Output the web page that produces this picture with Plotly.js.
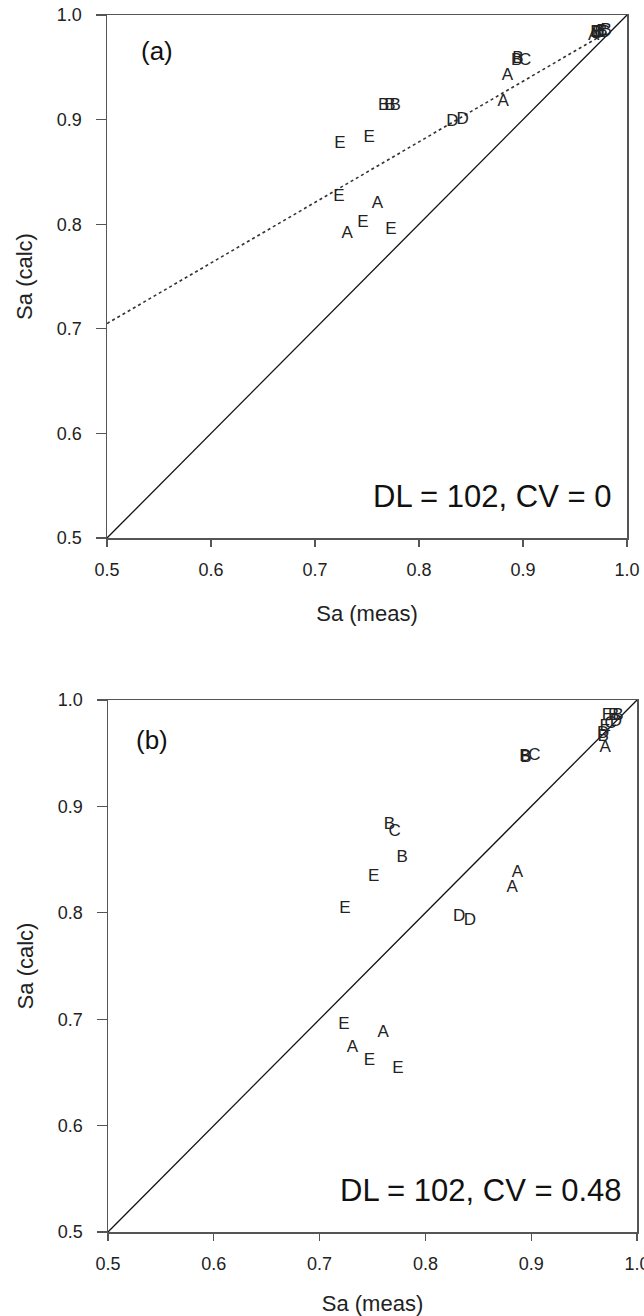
<!DOCTYPE html>
<html>
<head>
<meta charset="utf-8">
<script src="https://cdn.plot.ly/plotly-3.0.1.min.js"></script>
<style>html,body{margin:0;padding:0;background:#fff;}#chart{width:644px;height:1316px;}</style>
</head>
<body>
<div id="chart"></div>
<script>
// Panel (a): DL = 102, CV = 0
const labelsA = ["E","E","E","A","E","A","E","B","B","B","D","D","A","A","B","B","C","A","B","B","B","C","D","E"];
const measA   = [0.724,0.752,0.723,0.760,0.746,0.731,0.773,0.766,0.772,0.777,0.832,0.842,0.881,0.885,0.894,0.895,0.902,0.968,0.970,0.976,0.980,0.978,0.972,0.974];
const calcA   = [0.877,0.883,0.826,0.820,0.801,0.791,0.795,0.913,0.913,0.913,0.898,0.900,0.917,0.942,0.956,0.958,0.956,0.980,0.983,0.984,0.985,0.983,0.982,0.983];
// regression (dotted) line in panel (a)
const fitX = [0.5, 0.98];
const fitY = [0.705, 0.983];

// Panel (b): DL = 102, CV = 0.48
const labelsB = ["E","A","A","E","E","E","E","B","C","B","D","D","A","A","B","B","C","A","B","D","E","E","C","B","B","D"];
const measB   = [0.723,0.760,0.731,0.747,0.774,0.724,0.751,0.766,0.771,0.778,0.832,0.842,0.882,0.887,0.894,0.895,0.903,0.970,0.968,0.968,0.970,0.972,0.975,0.978,0.982,0.980];
const calcB   = [0.695,0.687,0.673,0.661,0.653,0.804,0.834,0.883,0.876,0.852,0.796,0.793,0.824,0.838,0.947,0.946,0.948,0.955,0.965,0.968,0.975,0.985,0.978,0.985,0.985,0.980];

const oneToOne = [0.5, 1.0];
const ticks = [0.5, 0.6, 0.7, 0.8, 0.9, 1.0];
const tickText = ["0.5","0.6","0.7","0.8","0.9","1.0"];
const panelTags = ["(a)", "(b)"];
const statTexts = ["DL = 102, CV = 0", "DL = 102, CV = 0.48"];

const W = 644, H = 1316;
const FONT = "Liberation Sans, Arial, sans-serif";
const axisColor = "#555";

function xAxis(d, anchor) {
  return {
    domain: d, anchor: anchor, range: [0.5, 1.0], tickvals: ticks, ticktext: tickText,
    showgrid: false, zeroline: false, showline: true, mirror: true, linecolor: axisColor, linewidth: 1.5,
    ticks: "outside", ticklen: 7, tickwidth: 1.2, tickcolor: axisColor, ticklabelstandoff: 8,
    ticklabeloverflow: "allow",
    tickfont: {family: FONT, size: 18, color: "#222"},
    title: {text: "Sa (meas)", font: {family: FONT, size: 22, color: "#222"}, standoff: 26}
  };
}
function yAxis(d, anchor) {
  return {
    domain: d, anchor: anchor, range: [0.5, 1.0], tickvals: ticks, ticktext: tickText,
    showgrid: false, zeroline: false, showline: true, mirror: true, linecolor: axisColor, linewidth: 1.5,
    ticks: "outside", ticklen: 10, tickwidth: 1.2, tickcolor: axisColor, ticklabelstandoff: 10,
    tickfont: {family: FONT, size: 18, color: "#222"},
    title: {text: "Sa (calc)", font: {family: FONT, size: 22, color: "#222"}, standoff: 18}
  };
}

const traces = [
  {x: oneToOne, y: oneToOne, mode: "lines", line: {color: "#111", width: 1.3}, xaxis: "x", yaxis: "y", hoverinfo: "skip"},
  {x: fitX, y: fitY, mode: "lines", line: {color: "#333", width: 1.6, dash: "dot"}, xaxis: "x", yaxis: "y", hoverinfo: "skip"},
  {x: measA, y: calcA, text: labelsA, mode: "text", textposition: "middle center",
   textfont: {family: FONT, size: 17, color: "#222"}, xaxis: "x", yaxis: "y"},
  {x: oneToOne, y: oneToOne, mode: "lines", line: {color: "#111", width: 1.3}, xaxis: "x2", yaxis: "y2", hoverinfo: "skip"},
  {x: measB, y: calcB, text: labelsB, mode: "text", textposition: "middle center",
   textfont: {family: FONT, size: 17, color: "#222"}, xaxis: "x2", yaxis: "y2"}
];

const layout = {
  width: W, height: H, margin: {l: 0, r: 0, t: 0, b: 0},
  paper_bgcolor: "#fff", plot_bgcolor: "#fff", showlegend: false,
  xaxis: xAxis([107/W, 627/W], "y"),
  yaxis: yAxis([1 - 538/H, 1 - 15/H], "x"),
  xaxis2: xAxis([108/W, 637/W], "y2"),
  yaxis2: yAxis([1 - 1232/H, 1 - 700/H], "x2"),
  annotations: [
    {xref: "x", yref: "y", x: 0.548, y: 0.966, text: panelTags[0], showarrow: false, font: {family: FONT, size: 26, color: "#111"}},
    {xref: "x", yref: "y", x: 0.987, y: 0.540, text: statTexts[0], showarrow: false, xanchor: "right", font: {family: FONT, size: 31, color: "#111"}},
    {xref: "x2", yref: "y2", x: 0.542, y: 0.962, text: panelTags[1], showarrow: false, font: {family: FONT, size: 26, color: "#111"}},
    {xref: "x2", yref: "y2", x: 0.987, y: 0.539, text: statTexts[1], showarrow: false, xanchor: "right", font: {family: FONT, size: 31, color: "#111"}}
  ]
};

Plotly.newPlot("chart", traces, layout, {displayModeBar: false, staticPlot: true});
</script>
</body>
</html>
